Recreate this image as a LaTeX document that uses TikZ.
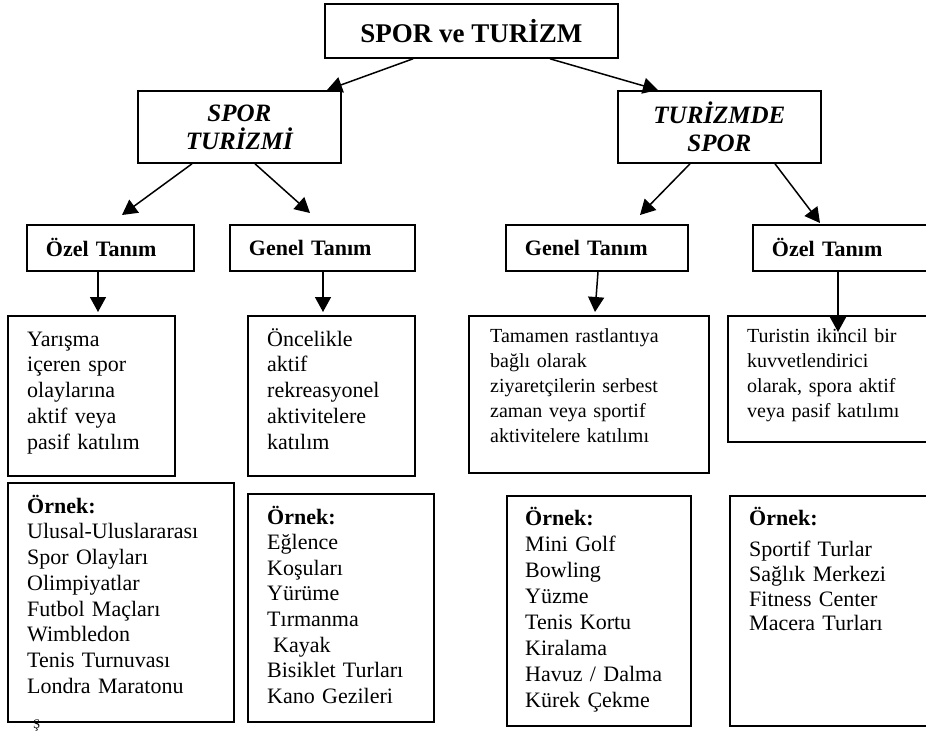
\documentclass[tikz,border=0pt]{standalone}
\usepackage{fontspec}
\setmainfont{Liberation Serif}
\usetikzlibrary{arrows.meta}
\begin{document}
\begin{tikzpicture}[x=1pt,y=-1pt,
  box/.style={draw, line width=1.8pt, inner sep=0pt, anchor=north west},
  conn/.style={line width=1.5pt, -{Triangle[length=15pt,width=16pt]}},
  titlebox/.style={box, minimum height=46pt, inner xsep=19pt, align=left,
    font=\fontsize{22}{25}\selectfont\bfseries},
  bodytxt/.style={anchor=base west, inner sep=0pt, align=left, text width=230pt,
    font=\fontsize{22}{25.75}\selectfont},
  smalltxt/.style={anchor=base west, inner sep=0pt, align=left, text width=230pt,
    font=\fontsize{20}{25}\selectfont}
]
\useasboundingbox (0,0) rectangle (926,732);
\fill[white] (0,0) rectangle (926,732);
\clip (0,0) rectangle (926,732);

% top
\node[box, minimum width=293pt, minimum height=54pt,
  font=\fontsize{27}{30}\selectfont\bfseries] (top) at (324,3) {SPOR ve TURİZM};

% level 2
\node[box, minimum width=203pt, minimum height=72pt, align=center,
  font=\fontsize{25}{28}\selectfont\bfseries\itshape] (st) at (137,90) {SPOR\\TURİZMİ};
\node[box, minimum width=203pt, minimum height=72pt, align=center,
  font=\fontsize{25}{28}\selectfont\bfseries\itshape] (ts) at (617,90) {TURİZMDE\\SPOR};

% level 3
\node[titlebox, text width=129pt] (ozelL) at (26,224) {Özel Tanım};
\node[titlebox, text width=147pt] (genelL) at (229,224) {Genel Tanım};
\node[titlebox, text width=144pt] (genelR) at (505,224) {Genel Tanım};
\node[titlebox, text width=180pt] (ozelR) at (752,224) {Özel Tanım};

% definition boxes
\node[box, minimum width=167pt, minimum height=160pt] (d1) at (7,315) {};
\node[box, minimum width=167pt, minimum height=160pt] (d2) at (247,315) {};
\node[box, minimum width=240pt, minimum height=157pt] (d3) at (468,315) {};
\node[box, minimum width=220pt, minimum height=126pt] (d4) at (727,315) {};

\node[bodytxt] (d1t) at (27,346) {Yarışma\\içeren spor\\olaylarına\\aktif veya\\pasif katılım};
\node[bodytxt] (d2t) at (267,346) {Öncelikle\\aktif\\rekreasyonel\\aktivitelere\\katılım};
\node[smalltxt] (d3t) at (490,342) {Tamamen rastlantıya\\bağlı olarak\\ziyaretçilerin serbest\\zaman veya sportif\\aktivitelere katılımı};
\node[smalltxt] (d4t) at (747,342) {Turistin ikincil bir\\kuvvetlendirici\\olarak, spora aktif\\veya pasif katılımı};

% example boxes
\node[box, minimum width=226pt, minimum height=239pt] (e1) at (7,482) {};
\node[box, minimum width=186pt, minimum height=228pt] (e2) at (247,493) {};
\node[box, minimum width=184pt, minimum height=230pt] (e3) at (506,495) {};
\node[box, minimum width=220pt, minimum height=230pt] (e4) at (729,495) {};

\node[bodytxt] (e1t) at (27,513) {\textbf{Örnek:}\\Ulusal-Uluslararası\\Spor Olayları\\Olimpiyatlar\\Futbol Maçları\\Wimbledon\\Tenis Turnuvası\\Londra Maratonu};
\node[bodytxt, font=\fontsize{22}{25.6}\selectfont] (e2t) at (267,524) {\textbf{Örnek:}\\Eğlence\\Koşuları\\Yürüme\\Tırmanma\\\hspace*{6pt}Kayak\\Bisiklet Turları\\Kano Gezileri};
\node[bodytxt, font=\fontsize{22}{26}\selectfont] (e3t) at (525,525) {\textbf{Örnek:}\\Mini Golf\\Bowling\\Yüzme\\Tenis Kortu\\Kiralama\\Havuz / Dalma\\Kürek Çekme};
\node[bodytxt, font=\fontsize{22}{24.7}\selectfont] (e4t) at (749,525) {\textbf{Örnek:}\\[7pt]Sportif Turlar\\Sağlık Merkezi\\Fitness Center\\Macera Turları};

\node[anchor=base west, inner sep=0pt, font=\fontsize{13}{15}\selectfont] (stray) at (33,728.5) {Ş};

% connectors
\draw[conn] ([xshift=89pt]top.south west) -- ([xshift=190pt]st.north west);
\draw[conn] ([xshift=226pt]top.south west) -- ([xshift=41pt]ts.north west);
\draw[conn] ([xshift=55pt]st.south west) -- ([xshift=96pt,yshift=9pt]ozelL.north west);
\draw[conn] ([xshift=118pt]st.south west) -- ([xshift=81pt,yshift=11pt]genelL.north west);
\draw[conn] ([xshift=73pt]ts.south west) -- ([xshift=135pt,yshift=9pt]genelR.north west);
\draw[conn] ([xshift=158pt]ts.south west) -- ([xshift=68pt,yshift=1pt]ozelR.north west);
\draw[conn] ([xshift=72pt]ozelL.south west) -- ([xshift=91pt,yshift=3pt]d1.north west);
\draw[conn] ([xshift=94pt]genelL.south west) -- ([xshift=76pt,yshift=3pt]d2.north west);
\draw[conn] ([xshift=93pt]genelR.south west) -- ([xshift=127pt,yshift=3pt]d3.north west);
\draw[conn] ([xshift=86pt]ozelR.south west) -- ([xshift=111pt,yshift=-17pt]d4.north west);
\end{tikzpicture}
\end{document}
